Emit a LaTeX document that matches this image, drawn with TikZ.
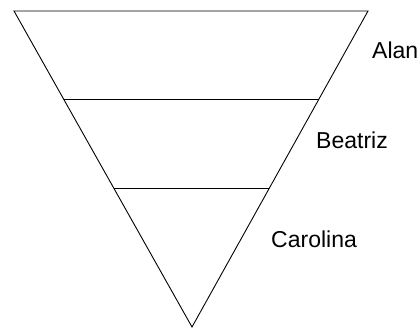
\documentclass[tikz,border=0pt]{standalone}
\usepackage{fontspec}
\setmainfont{Liberation Sans}
\usetikzlibrary{positioning,calc}

\begin{document}
\begin{tikzpicture}[
  x=1pt, y=-1pt,
  edge/.style={draw=black, line width=0.9pt},
  lbl/.style={font=\fontsize{23}{27}\selectfont, inner sep=0pt, anchor=west}
]
\useasboundingbox (0,0) rectangle (419,328);
\coordinate (tl) at (14,11);
\coordinate (tr) at (368,11);
\coordinate (apex) at (192,327);
\coordinate (l1) at ($(tl)!0.2785!(apex)$);
\coordinate (r1) at ($(tr)!0.2785!(apex)$);
\coordinate (l2) at ($(tl)!0.5601!(apex)$);
\coordinate (r2) at ($(tr)!0.5601!(apex)$);
\draw[edge] (tl) -- (tr) -- (apex) -- cycle;
\draw[edge] (l1) -- (r1);
\draw[edge] (l2) -- (r2);
\node[lbl] (alan) at (372,50) {Alan};
\node[lbl] (beatriz) at (316,140) {Beatriz};
\node[lbl] (carolina) at (271,239) {Carolina};
\end{tikzpicture}
\end{document}
